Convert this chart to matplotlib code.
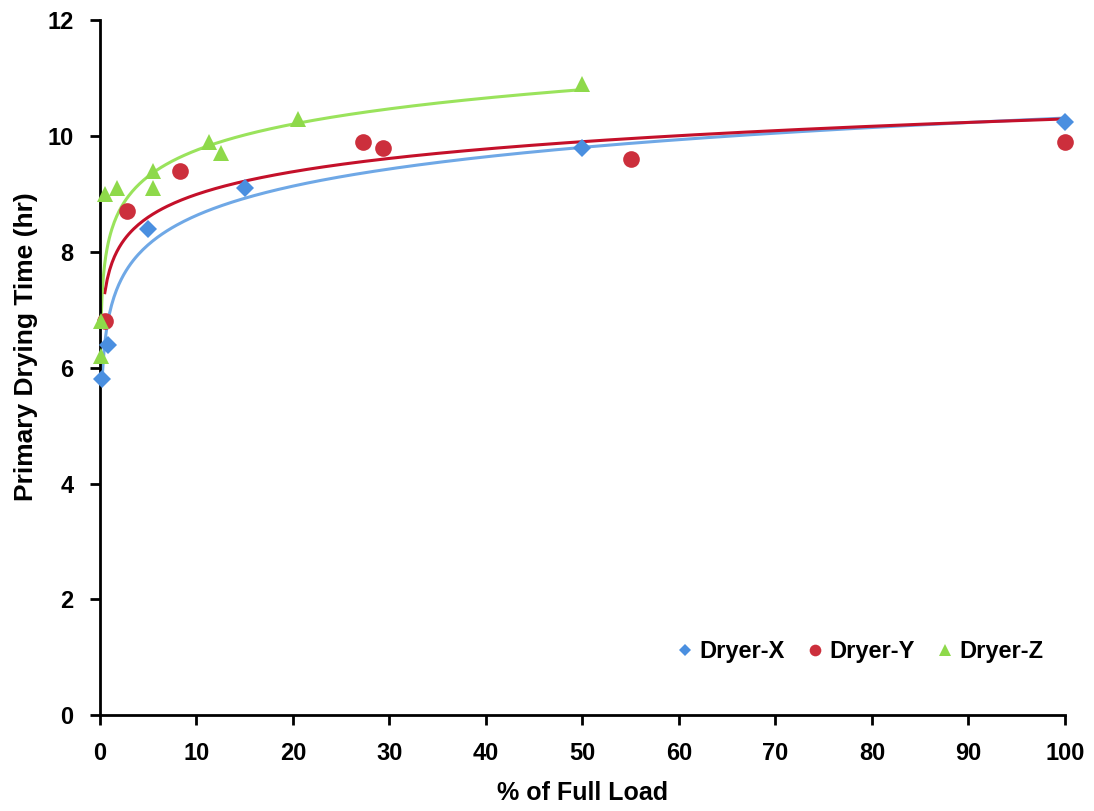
import matplotlib
matplotlib.use("Agg")
import matplotlib.pyplot as plt
import numpy as np

plt.rcParams['font.family'] = ['Liberation Sans', 'DejaVu Sans']
plt.rcParams['font.weight'] = 'bold'

# data
x_dryer_x = [0.2, 0.8, 5, 15, 50, 100]
y_dryer_x = [5.8, 6.4, 8.4, 9.1, 9.8, 10.25]

x_dryer_y = [0.5, 2.8, 8.3, 27.3, 29.3, 55, 100]
y_dryer_y = [6.8, 8.7, 9.4, 9.9, 9.8, 9.6, 9.9]

x_dryer_z = [0.1, 0.1, 0.5, 1.8, 5.5, 5.5, 11.3, 12.5, 20.5, 50]
y_dryer_z = [6.2, 6.8, 9.0, 9.1, 9.4, 9.1, 9.9, 9.7, 10.3, 10.9]

# log trend lines (a + b*ln x), as drawn in the original
trend_x = (6.95, 0.73, 0.2, 100)
trend_y = (7.69, 0.566, 0.5, 100)
trend_z = (8.26, 0.65, 0.1, 50)

fig = plt.figure(figsize=(10.94, 8.11), dpi=100)
ax = fig.add_axes([0.0914, 0.118, 0.882, 0.857])

series = [
    ("Dryer-X", x_dryer_x, y_dryer_x, trend_x, 'D', '#4a8fe0', '#6fa8e6', 9),
    ("Dryer-Y", x_dryer_y, y_dryer_y, trend_y, 'o', '#cc2f3c', '#c4102a', 12),
    ("Dryer-Z", x_dryer_z, y_dryer_z, trend_z, '^', '#8ed94a', '#9ae35c', 12),
]

for name, xs, ys, tr, mk, mc, lc, ms in series:
    a, b, x0, x1 = tr
    xx = np.linspace(x0, x1, 400)
    ax.plot(xx, a + b * np.log(xx), color=lc, lw=2.2, zorder=2)
for name, xs, ys, tr, mk, mc, lc, ms in series:
    ax.plot(xs, ys, mk, color=mc, markersize=ms, markeredgewidth=0,
            label=name, zorder=3, clip_on=False)

ax.set_xlim(0, 100)
ax.set_ylim(0, 12)
ax.set_xticks(np.arange(0, 101, 10))
ax.set_yticks(np.arange(0, 13, 2))
for s in ['top', 'right']:
    ax.spines[s].set_visible(False)
for s in ['left', 'bottom']:
    ax.spines[s].set_linewidth(2)
ax.tick_params(axis='both', direction='out', length=7, width=2,
               labelsize=17, pad=12)
for lab in ax.get_xticklabels() + ax.get_yticklabels():
    lab.set_fontweight('bold')

ax.set_xlabel("% of Full Load", fontsize=18, fontweight='bold')
ax.xaxis.set_label_coords(0.5, -0.095)
ax.set_ylabel("Primary Drying Time (hr)", fontsize=19, fontweight='bold',
              va='center')
ax.yaxis.set_label_coords(-0.077, 0.53)

ax.legend(loc='lower right', bbox_to_anchor=(1.0, 0.045), ncol=3,
          frameon=False, fontsize=17, handletextpad=0.1, columnspacing=0.8,
          markerscale=0.7, handlelength=1.0)

plt.savefig('out.png', dpi=100)
